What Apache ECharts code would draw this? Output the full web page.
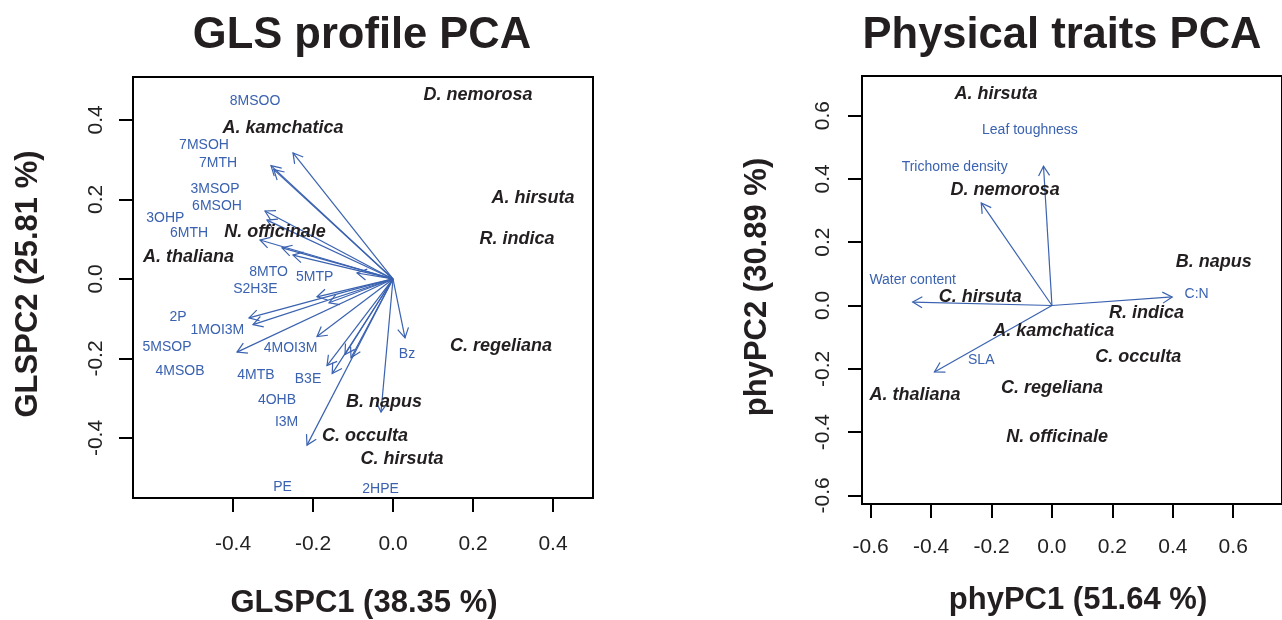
<!DOCTYPE html>
<html><head><meta charset="utf-8">
<script src="https://cdn.jsdelivr.net/npm/echarts@6/dist/echarts.min.js"></script>
<style>html,body{margin:0;padding:0;background:#fff}#c{width:1282px;height:620px}</style>
</head><body><div id="c"></div>
<script>
// ---------- GLS profile PCA ----------
const glsSpeciesNames = ['D. nemorosa','A. kamchatica','A. hirsuta','R. indica','N. officinale','A. thaliana','C. regeliana','B. napus','C. occulta','C. hirsuta'];
const glsSpeciesPC1 = [0.2125,-0.275,0.35,0.31,-0.295,-0.511,0.27,-0.0225,-0.07,0.0225];
const glsSpeciesPC2 = [0.463,0.38,0.204,0.10,0.118,0.055,-0.169,-0.309,-0.395,-0.452];

const glsVarNames = ['8MSOO','7MSOH','7MTH','3MSOP','6MSOH','3OHP','6MTH','8MTO','5MTP','S2H3E','2P','1MOI3M','5MSOP','4MOI3M','4MSOB','4MTB','B3E','4OHB','I3M','PE','2HPE','Bz'];
const glsVarLabelPC1 = [-0.345,-0.4725,-0.4375,-0.445,-0.44,-0.569,-0.51,-0.311,-0.196,-0.344,-0.5375,-0.439,-0.565,-0.256,-0.5325,-0.3425,-0.2125,-0.29,-0.266,-0.276,-0.031,0.035];
const glsVarLabelPC2 = [0.448,0.337,0.292,0.226,0.184,0.153,0.116,0.018,0.005,-0.025,-0.096,-0.128,-0.171,-0.174,-0.231,-0.242,-0.252,-0.304,-0.36,-0.523,-0.528,-0.189];
const glsArrowPC1 = [-0.25,-0.305,-0.298,-0.32,-0.315,-0.3325,-0.2775,-0.25,-0.09,-0.19,-0.16,-0.36,-0.35,-0.39,-0.19,-0.165,-0.152,-0.12,-0.105,-0.215,-0.03,0.03];
const glsArrowPC2 = [0.317,0.285,0.275,0.171,0.148,0.098,0.078,0.06,0.015,-0.045,-0.06,-0.098,-0.115,-0.184,-0.145,-0.218,-0.238,-0.19,-0.198,-0.418,-0.335,-0.148];
const glsTicks = [-0.4,-0.2,0,0.2,0.4];

// ---------- Physical traits PCA ----------
const phySpeciesNames = ['A. hirsuta','D. nemorosa','B. napus','C. hirsuta','R. indica','A. kamchatica','C. occulta','A. thaliana','C. regeliana','N. officinale'];
const phySpeciesPC1 = [-0.185,-0.155,0.5355,-0.237,0.313,0.006,0.286,-0.453,0.0,0.017];
const phySpeciesPC2 = [0.668,0.365,0.137,0.027,-0.024,-0.081,-0.163,-0.283,-0.261,-0.415];
const phyVarNames = ['Leaf toughness','Trichome density','Water content','C:N','SLA'];
const phyVarLabelPC1 = [-0.073,-0.322,-0.461,0.479,-0.234];
const phyVarLabelPC2 = [0.555,0.437,0.081,0.036,-0.172];
const phyArrowPC1 = [-0.028,-0.234,-0.461,0.398,-0.389];
const phyArrowPC2 = [0.44,0.324,0.011,0.027,-0.21];
const phyTicks = [-0.6,-0.4,-0.2,0,0.2,0.4,0.6];

const BLUE = '#3a62b0';
const INK = '#231f20';
const FONT = '"Liberation Sans", Arial, sans-serif';

function zip(a, b){ return a.map((v,i)=>[v, b[i], i]); }

function arrowRender(params, api){
  const o = api.coord([0,0]);
  const t = api.coord([api.value(0), api.value(1)]);
  const ang = Math.atan2(t[1]-o[1], t[0]-o[0]);
  const L = 11, a = Math.PI/6;
  const p1 = [t[0]-L*Math.cos(ang-a), t[1]-L*Math.sin(ang-a)];
  const p2 = [t[0]-L*Math.cos(ang+a), t[1]-L*Math.sin(ang+a)];
  return {type:'group', children:[
    {type:'line', shape:{x1:o[0],y1:o[1],x2:t[0],y2:t[1]}, style:{stroke:BLUE,lineWidth:1.2}},
    {type:'polyline', shape:{points:[p1,t,p2]}, style:{stroke:BLUE,lineWidth:1.2,fill:null}}
  ]};
}
function textRender(names, font, color){
  return function(params, api){
    const p = api.coord([api.value(0), api.value(1)]);
    return {type:'text', x:p[0], y:p[1], style:{text:names[params.dataIndex], font:font, fill:color,
      align:'center', verticalAlign:'middle', textAlign:'center', textVerticalAlign:'middle'}};
  };
}

function xAxisCfg(g, min, max, ticks, margin){
  return {gridIndex:g, type:'value', position:'bottom', min:min, max:max, axisLine:{show:false, onZero:false}, splitLine:{show:false},
    axisTick:{show:true, customValues:ticks, length:14, lineStyle:{color:'#000', width:2}},
    axisLabel:{customValues:ticks, formatter:v=>v.toFixed(1), fontSize:21, color:'#222', fontFamily:FONT, margin:margin}};
}
function yAxisCfg(g, min, max, ticks, margin){
  return {gridIndex:g, type:'value', position:'left', min:min, max:max, axisLine:{show:false, onZero:false}, splitLine:{show:false},
    axisTick:{show:true, customValues:ticks, length:14, lineStyle:{color:'#000', width:2}},
    axisLabel:{customValues:ticks, formatter:v=>v.toFixed(1), fontSize:21, color:'#222', fontFamily:FONT, margin:margin, rotate:90}};
}

const chart = echarts.init(document.getElementById('c'), null, {renderer:'canvas'});
chart.setOption({
  animation:false,
  backgroundColor:'#fff',
  grid:[
    {left:133, top:77, width:460, height:421, show:true, borderColor:'#000', borderWidth:2, backgroundColor:'transparent'},
    {left:862, top:76, width:440, height:428, show:true, borderColor:'#000', borderWidth:2, backgroundColor:'transparent'}
  ],
  xAxis:[ xAxisCfg(0,-0.65,0.5,glsTicks,36), xAxisCfg(1,-0.6288,0.7615,phyTicks,33) ],
  yAxis:[ yAxisCfg(0,-0.551,0.508,glsTicks,26), yAxisCfg(1,-0.627,0.725,phyTicks,28) ],
  graphic:[
    {type:'text', x:362, y:36, style:{text:'GLS profile PCA', font:'bold 43.5px '+FONT, fill:INK, textAlign:'center', textVerticalAlign:'middle'}},
    {type:'text', x:1062, y:36, style:{text:'Physical traits PCA', font:'bold 43.5px '+FONT, fill:INK, textAlign:'center', textVerticalAlign:'middle'}},
    {type:'text', x:364, y:603, style:{text:'GLSPC1 (38.35 %)', font:'bold 31px '+FONT, fill:INK, textAlign:'center', textVerticalAlign:'middle'}},
    {type:'text', x:1078, y:600, style:{text:'phyPC1 (51.64 %)', font:'bold 31px '+FONT, fill:INK, textAlign:'center', textVerticalAlign:'middle'}},
    {type:'text', x:28, y:284, rotation:Math.PI/2, style:{text:'GLSPC2 (25.81 %)', font:'bold 31px '+FONT, fill:INK, textAlign:'center', textVerticalAlign:'middle'}},
    {type:'text', x:757, y:287, rotation:Math.PI/2, style:{text:'phyPC2 (30.89 %)', font:'bold 31px '+FONT, fill:INK, textAlign:'center', textVerticalAlign:'middle'}}
  ],
  series:[
    {type:'custom', xAxisIndex:0, yAxisIndex:0, clip:false, data:zip(glsArrowPC1, glsArrowPC2), renderItem:arrowRender},
    {type:'custom', xAxisIndex:0, yAxisIndex:0, clip:false, data:zip(glsVarLabelPC1, glsVarLabelPC2), renderItem:textRender(glsVarNames, '14px '+FONT, BLUE)},
    {type:'custom', xAxisIndex:0, yAxisIndex:0, clip:false, data:zip(glsSpeciesPC1, glsSpeciesPC2), renderItem:textRender(glsSpeciesNames, 'italic bold 18px '+FONT, INK)},
    {type:'custom', xAxisIndex:1, yAxisIndex:1, clip:false, data:zip(phyArrowPC1, phyArrowPC2), renderItem:arrowRender},
    {type:'custom', xAxisIndex:1, yAxisIndex:1, clip:false, data:zip(phyVarLabelPC1, phyVarLabelPC2), renderItem:textRender(phyVarNames, '14px '+FONT, BLUE)},
    {type:'custom', xAxisIndex:1, yAxisIndex:1, clip:false, data:zip(phySpeciesPC1, phySpeciesPC2), renderItem:textRender(phySpeciesNames, 'italic bold 18px '+FONT, INK)}
  ]
});
</script></body></html>
